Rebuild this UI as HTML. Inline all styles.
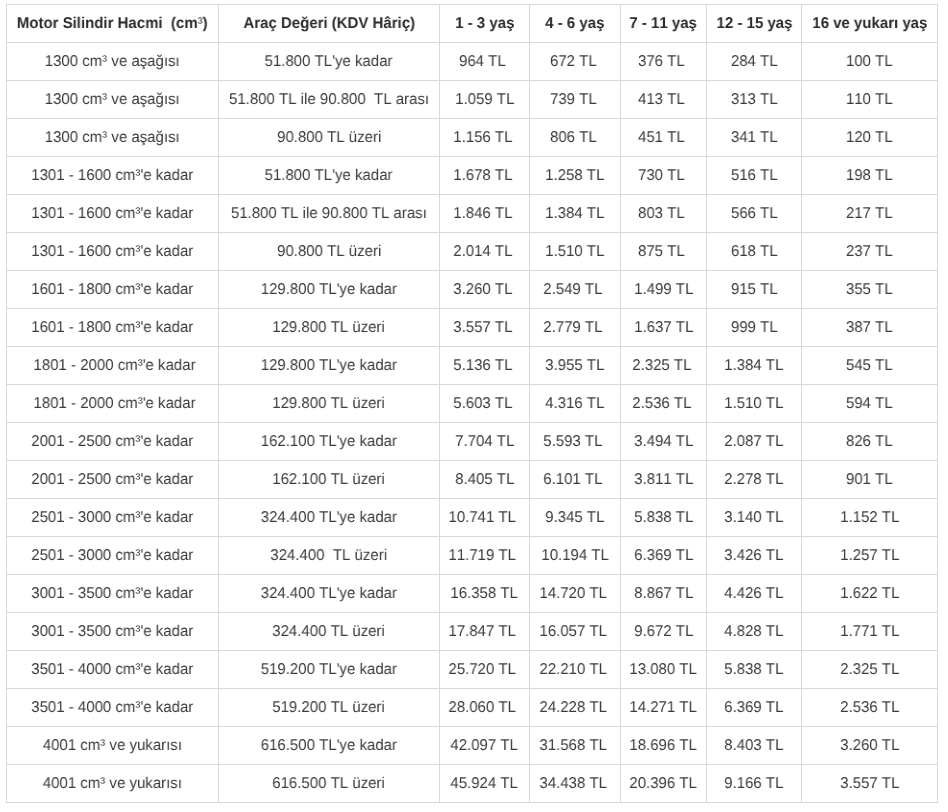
<!DOCTYPE html><html><head><meta charset="utf-8"><title>Table</title><style>
*{margin:0;padding:0;box-sizing:border-box}
html,body{width:948px;height:812px;background:#fff;overflow:hidden}
body{font-family:"Liberation Sans",Arial,sans-serif;font-size:15px;color:#3b3b3b;font-kerning:none}
table{position:absolute;left:6px;top:4px;border-collapse:collapse;table-layout:fixed;width:932px}
td,th{border:1px solid #d9d9d9;height:38px;text-align:center;vertical-align:middle;padding:0;white-space:nowrap;overflow:hidden}
th{font-weight:bold;color:#2b2b2b}
span{display:inline-block;text-rendering:geometricPrecision;font-size:15.6px;transform:scaleX(0.9615);will-change:transform}
span.n{font-weight:normal;font-size:inherit;transform:none;will-change:auto}
</style></head><body><table><colgroup>
<col style="width:212px">
<col style="width:221px">
<col style="width:90px">
<col style="width:91px">
<col style="width:86px">
<col style="width:95px">
<col style="width:136px">
</colgroup><thead><tr>
<th><span>Motor Silindir Hacmi&nbsp; (cm<span class="n">³</span>)</span></th>
<th><span>Araç Değeri (KDV Hâriç)</span></th>
<th><span>1 - 3 yaş</span></th>
<th><span>4 - 6 yaş</span></th>
<th><span>7 - 11 yaş</span></th>
<th><span>12 - 15 yaş</span></th>
<th><span>16 ve yukarı yaş</span></th>
</tr></thead><tbody>
<tr><td><span>1300 cm³ ve aşağısı</span></td><td><span>51.800 TL'ye kadar</span></td><td><span>964 TL&nbsp;</span></td><td><span>672 TL&nbsp;</span></td><td><span>376 TL&nbsp;</span></td><td><span>284 TL</span></td><td><span>100 TL</span></td></tr>
<tr><td><span>1300 cm³ ve aşağısı</span></td><td><span>51.800 TL ile 90.800&nbsp; TL arası</span></td><td><span>1.059 TL</span></td><td><span>739 TL&nbsp;</span></td><td><span>413 TL&nbsp;</span></td><td><span>313 TL</span></td><td><span>110 TL</span></td></tr>
<tr><td><span>1300 cm³ ve aşağısı</span></td><td><span>90.800 TL üzeri</span></td><td><span>1.156 TL&nbsp;</span></td><td><span>806 TL&nbsp;</span></td><td><span>451 TL&nbsp;</span></td><td><span>341 TL</span></td><td><span>120 TL</span></td></tr>
<tr><td><span>1301 - 1600 cm³'e kadar</span></td><td><span>51.800 TL'ye kadar</span></td><td><span>1.678 TL&nbsp;</span></td><td><span>1.258 TL</span></td><td><span>730 TL&nbsp;</span></td><td><span>516 TL</span></td><td><span>198 TL</span></td></tr>
<tr><td><span>1301 - 1600 cm³'e kadar</span></td><td><span>51.800 TL ile 90.800 TL arası</span></td><td><span>1.846 TL&nbsp;</span></td><td><span>1.384 TL</span></td><td><span>803 TL&nbsp;</span></td><td><span>566 TL</span></td><td><span>217 TL</span></td></tr>
<tr><td><span>1301 - 1600 cm³'e kadar</span></td><td><span>90.800 TL üzeri</span></td><td><span>2.014 TL&nbsp;</span></td><td><span>1.510 TL</span></td><td><span>875 TL&nbsp;</span></td><td><span>618 TL</span></td><td><span>237 TL</span></td></tr>
<tr><td><span>1601 - 1800 cm³'e kadar</span></td><td><span>129.800 TL'ye kadar</span></td><td><span>3.260 TL&nbsp;</span></td><td><span>2.549 TL&nbsp;</span></td><td><span>1.499 TL</span></td><td><span>915 TL</span></td><td><span>355 TL</span></td></tr>
<tr><td><span>1601 - 1800 cm³'e kadar</span></td><td><span>129.800 TL üzeri</span></td><td><span>3.557 TL&nbsp;</span></td><td><span>2.779 TL&nbsp;</span></td><td><span>1.637 TL</span></td><td><span>999 TL</span></td><td><span>387 TL</span></td></tr>
<tr><td><span>&nbsp;1801 - 2000 cm³'e kadar</span></td><td><span>129.800 TL'ye kadar</span></td><td><span>5.136 TL&nbsp;</span></td><td><span>3.955 TL</span></td><td><span>2.325 TL&nbsp;</span></td><td><span>1.384 TL</span></td><td><span>545 TL</span></td></tr>
<tr><td><span>&nbsp;1801 - 2000 cm³'e kadar</span></td><td><span>129.800 TL üzeri</span></td><td><span>5.603 TL&nbsp;</span></td><td><span>4.316 TL</span></td><td><span>2.536 TL&nbsp;</span></td><td><span>1.510 TL</span></td><td><span>594 TL</span></td></tr>
<tr><td><span>2001 - 2500 cm³'e kadar</span></td><td><span>162.100 TL'ye kadar</span></td><td><span>7.704 TL</span></td><td><span>5.593 TL&nbsp;</span></td><td><span>3.494 TL</span></td><td><span>2.087 TL</span></td><td><span>826 TL</span></td></tr>
<tr><td><span>2001 - 2500 cm³'e kadar</span></td><td><span>162.100 TL üzeri</span></td><td><span>8.405 TL</span></td><td><span>6.101 TL&nbsp;</span></td><td><span>3.811 TL</span></td><td><span>2.278 TL</span></td><td><span>901 TL</span></td></tr>
<tr><td><span>2501 - 3000 cm³'e kadar</span></td><td><span>324.400 TL'ye kadar</span></td><td><span>10.741 TL&nbsp;</span></td><td><span>9.345 TL</span></td><td><span>5.838 TL</span></td><td><span>3.140 TL</span></td><td><span>1.152 TL</span></td></tr>
<tr><td><span>2501 - 3000 cm³'e kadar</span></td><td><span>324.400&nbsp; TL üzeri</span></td><td><span>11.719 TL&nbsp;</span></td><td><span>10.194 TL</span></td><td><span>6.369 TL</span></td><td><span>3.426 TL</span></td><td><span>1.257 TL</span></td></tr>
<tr><td><span>3001 - 3500 cm³'e kadar</span></td><td><span>324.400 TL'ye kadar</span></td><td><span>16.358 TL</span></td><td><span>14.720 TL&nbsp;</span></td><td><span>8.867 TL</span></td><td><span>4.426 TL</span></td><td><span>1.622 TL</span></td></tr>
<tr><td><span>3001 - 3500 cm³'e kadar</span></td><td><span>324.400 TL üzeri</span></td><td><span>17.847 TL&nbsp;</span></td><td><span>16.057 TL&nbsp;</span></td><td><span>9.672 TL</span></td><td><span>4.828 TL</span></td><td><span>1.771 TL</span></td></tr>
<tr><td><span>3501 - 4000 cm³'e kadar</span></td><td><span>519.200 TL'ye kadar</span></td><td><span>25.720 TL&nbsp;</span></td><td><span>22.210 TL&nbsp;</span></td><td><span>13.080 TL</span></td><td><span>5.838 TL</span></td><td><span>2.325 TL</span></td></tr>
<tr><td><span>3501 - 4000 cm³'e kadar</span></td><td><span>519.200 TL üzeri</span></td><td><span>28.060 TL&nbsp;</span></td><td><span>24.228 TL&nbsp;</span></td><td><span>14.271 TL</span></td><td><span>6.369 TL</span></td><td><span>2.536 TL</span></td></tr>
<tr><td><span>4001 cm³ ve yukarısı</span></td><td><span>616.500 TL'ye kadar</span></td><td><span>42.097 TL</span></td><td><span>31.568 TL&nbsp;</span></td><td><span>18.696 TL</span></td><td><span>8.403 TL</span></td><td><span>3.260 TL</span></td></tr>
<tr><td><span>4001 cm³ ve yukarısı</span></td><td><span>616.500 TL üzeri</span></td><td><span>45.924 TL</span></td><td><span>34.438 TL&nbsp;</span></td><td><span>20.396 TL</span></td><td><span>9.166 TL</span></td><td><span>3.557 TL</span></td></tr>
</tbody></table></body></html>
